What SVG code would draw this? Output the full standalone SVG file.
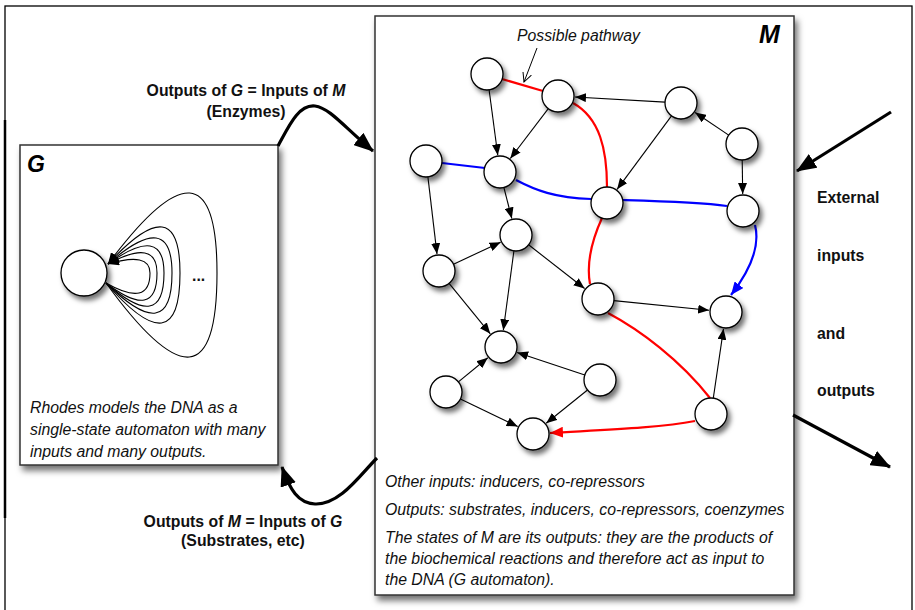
<svg xmlns="http://www.w3.org/2000/svg" width="915" height="610" viewBox="0 0 915 610">
<defs>
<style>
.node{fill:#fff;stroke:#000;stroke-width:1.3;filter:url(#sh)}
.box{fill:#fff;stroke:#333;stroke-width:1.5;filter:url(#bsh)}
.e{fill:none;stroke:#000;stroke-width:1.1;marker-end:url(#ah)}
.red{fill:none;stroke:#f00;stroke-width:2.2}
.blue{fill:none;stroke:#00f;stroke-width:2.2}
.thick{fill:none;stroke:#000;stroke-width:3.2;marker-end:url(#big)}
.loop{fill:none;stroke:#000;stroke-width:1.1;marker-end:url(#ah)}
.it{font-family:"Liberation Sans",Arial,sans-serif;font-style:italic;font-size:15.8px;fill:#111}
.b{font-family:"Liberation Sans",Arial,sans-serif;font-weight:bold;font-size:15.8px;fill:#111}
.title{font-family:"Liberation Sans",Arial,sans-serif;font-weight:bold;font-style:italic;fill:#000}
</style>
<filter id="sh" x="-60%" y="-60%" width="220%" height="220%"><feDropShadow dx="3" dy="4" stdDeviation="2.5" flood-color="#000" flood-opacity="0.55"/></filter>
<filter id="bsh" x="-10%" y="-10%" width="120%" height="120%"><feDropShadow dx="3" dy="5" stdDeviation="3" flood-color="#000" flood-opacity="0.55"/></filter>
<marker id="ah" markerUnits="userSpaceOnUse" markerWidth="11" markerHeight="9" refX="11" refY="4.5" orient="auto"><path d="M0,0 L11,4.5 L0,9 z" fill="#000"/></marker>
<marker id="ahr" markerUnits="userSpaceOnUse" markerWidth="13" markerHeight="11" refX="13" refY="5.5" orient="auto"><path d="M0,0 L13,5.5 L0,11 z" fill="#f00"/></marker>
<marker id="ahb" markerUnits="userSpaceOnUse" markerWidth="13" markerHeight="11" refX="13" refY="5.5" orient="auto"><path d="M0,0 L13,5.5 L0,11 z" fill="#00f"/></marker>
<marker id="big" markerUnits="userSpaceOnUse" markerWidth="20" markerHeight="16" refX="19" refY="8" orient="auto"><path d="M0,0 L20,8 L0,16 z" fill="#000"/></marker>
<marker id="open" markerUnits="userSpaceOnUse" markerWidth="10" markerHeight="10" refX="9" refY="5" orient="auto"><path d="M0,0.5 L9,5 L0,9.5" fill="none" stroke="#000" stroke-width="1"/></marker>
</defs>
<rect width="915" height="610" fill="#fff"/>
<!-- outer frame -->
<rect x="5" y="6" width="907" height="640" fill="none" stroke="#000" stroke-width="1.3"/>
<line x1="5" y1="120" x2="5" y2="518" stroke="#000" stroke-width="2.5"/>

<g id="G-box">
<rect class="box" x="20" y="145" width="258" height="320"/>
<text class="title" x="27" y="172" font-size="23">G</text>
<text class="it" x="30" y="413">Rhodes models the DNA as a</text>
<text class="it" x="30" y="435">single-state automaton with many</text>
<text class="it" x="30" y="457">inputs and many outputs.</text>
</g>
<g id="G-loops">
<path class="loop" d="M106,283 Q217,436 217,273 Q217,117.5 108,264"/>
<path class="loop" d="M106,283 Q180,368 180,273 Q180,185.5 108,264"/>
<path class="loop" d="M106,283 Q172,348 172,273 Q172,207.5 108,264"/>
<path class="loop" d="M106,283 Q164,334 164,273 Q164,223.5 108,264"/>
<path class="loop" d="M106,283 Q157,322 157,273 Q157,237.5 108,264"/>
<path class="loop" d="M106,283 Q150,308 150,273 Q150,251.5 108,264"/>
</g>
<g id="G-node"><circle class="node" cx="84" cy="273" r="23"/></g>
<text class="b" x="192" y="281">...</text>

<g id="M-box">
<rect class="box" x="375" y="16" width="419" height="579"/>
<text class="title" x="759" y="43" font-size="25">M</text>
<text class="it" x="517" y="41">Possible pathway</text>
<text class="it" x="385" y="487">Other inputs: inducers, co-repressors</text>
<text class="it" x="385" y="515">Outputs: substrates, inducers, co-repressors, coenzymes</text>
<text class="it" x="385" y="543">The states of M are its outputs: they are the products of</text>
<text class="it" x="385" y="564">the biochemical reactions and therefore act as input to</text>
<text class="it" x="385" y="585">the DNA (G automaton).</text>
</g>

<g id="connectors">
<line x1="537" y1="48" x2="524" y2="82" stroke="#000" stroke-width="1" marker-end="url(#open)"/>
<line class="e" x1="489.1" y1="89.9" x2="497.8" y2="155.2"/>
<line class="e" x1="548.3" y1="108.7" x2="510.3" y2="158.5"/>
<line class="e" x1="665" y1="102.1" x2="575" y2="97"/>
<line class="e" x1="671.5" y1="115.9" x2="617.1" y2="189.3"/>
<line class="e" x1="728.7" y1="135.1" x2="695.1" y2="112.5"/>
<line class="e" x1="742.2" y1="160" x2="742.7" y2="194"/>
<line class="e" x1="427.9" y1="176.9" x2="437" y2="254.1"/>
<line class="e" x1="503.9" y1="187.5" x2="511.8" y2="218.5"/>
<line class="e" x1="453.5" y1="264.2" x2="500.6" y2="242.2"/>
<line class="e" x1="528.6" y1="244.8" x2="584.6" y2="288.5"/>
<line class="e" x1="513.9" y1="250.9" x2="503.3" y2="330.2"/>
<line class="e" x1="449.1" y1="283.4" x2="490.3" y2="333.8"/>
<line class="e" x1="613.9" y1="300.6" x2="709.1" y2="310.3"/>
<line class="e" x1="713.3" y1="398.2" x2="723.5" y2="328.8"/>
<line class="e" x1="584.8" y1="374.9" x2="517.1" y2="352.4"/>
<line class="e" x1="458.4" y1="381.9" x2="487.8" y2="357.8"/>
<line class="e" x1="460.4" y1="399" x2="517.7" y2="426.6"/>
<line class="e" x1="587.5" y1="390" x2="546.2" y2="423.3"/>
<path class="red" d="M502,79 L543,91"/>
<path class="red" d="M573,103 C600,118 607,150 607,187"/>
<path class="red" d="M602,218 C592,240 586,262 590,284"/>
<path class="red" d="M608,313 C640,330 680,360 710,398"/>
<path class="red" d="M695,421 C660,428 600,430 550,433" marker-end="url(#ahr)"/>
<path class="blue" d="M442,163 L485,168"/>
<path class="blue" d="M516,180 C535,190 555,198 591,199"/>
<path class="blue" d="M623,200 C660,201 700,202 727,206"/>
<path class="blue" d="M755,225 C760,245 752,268 731,295" marker-end="url(#ahb)"/>
<path class="thick" d="M278,146 C288,128 298,104 315,106 C330,108 345,128 373,151"/>
<path class="thick" d="M377,458 C360,475 340,505 315,504 C298,503 290,490 282,467"/>
<path class="thick" d="M891,112 L797,171"/>
<path class="thick" d="M793,415 L890,467"/>
</g>

<g id="M-nodes">
<circle id="n1" class="node" cx="487" cy="74" r="16"/>
<circle id="n2" class="node" cx="558" cy="96" r="16"/>
<circle id="n3" class="node" cx="681" cy="103" r="16"/>
<circle id="n4" class="node" cx="742" cy="144" r="16"/>
<circle id="n5" class="node" cx="426" cy="161" r="16"/>
<circle id="n6" class="node" cx="500" cy="172" r="16"/>
<circle id="n7" class="node" cx="607" cy="203" r="16"/>
<circle id="n8" class="node" cx="743" cy="211" r="16"/>
<circle id="n9" class="node" cx="516" cy="235" r="16"/>
<circle id="n10" class="node" cx="439" cy="271" r="16"/>
<circle id="n12" class="node" cx="598" cy="299" r="16"/>
<circle id="n13" class="node" cx="726" cy="312" r="16"/>
<circle id="n14" class="node" cx="501" cy="347" r="16"/>
<circle id="n15" class="node" cx="446" cy="392" r="16"/>
<circle id="n16" class="node" cx="600" cy="380" r="16"/>
<circle id="n17" class="node" cx="711" cy="414" r="16"/>
<circle id="n18" class="node" cx="533" cy="434" r="16"/>
</g>

<g id="labels">
<text class="b" x="246" y="96" text-anchor="middle">Outputs of <tspan font-style="italic">G</tspan> = Inputs of <tspan font-style="italic">M</tspan></text>
<text class="b" x="246" y="117" text-anchor="middle">(Enzymes)</text>
<text class="b" x="243" y="527" text-anchor="middle">Outputs of <tspan font-style="italic">M</tspan> = Inputs of <tspan font-style="italic">G</tspan></text>
<text class="b" x="243" y="546" text-anchor="middle">(Substrates, etc)</text>
<text class="b" x="817" y="203">External</text>
<text class="b" x="817" y="261">inputs</text>
<text class="b" x="817" y="339">and</text>
<text class="b" x="817" y="396">outputs</text>
</g>
</svg>
